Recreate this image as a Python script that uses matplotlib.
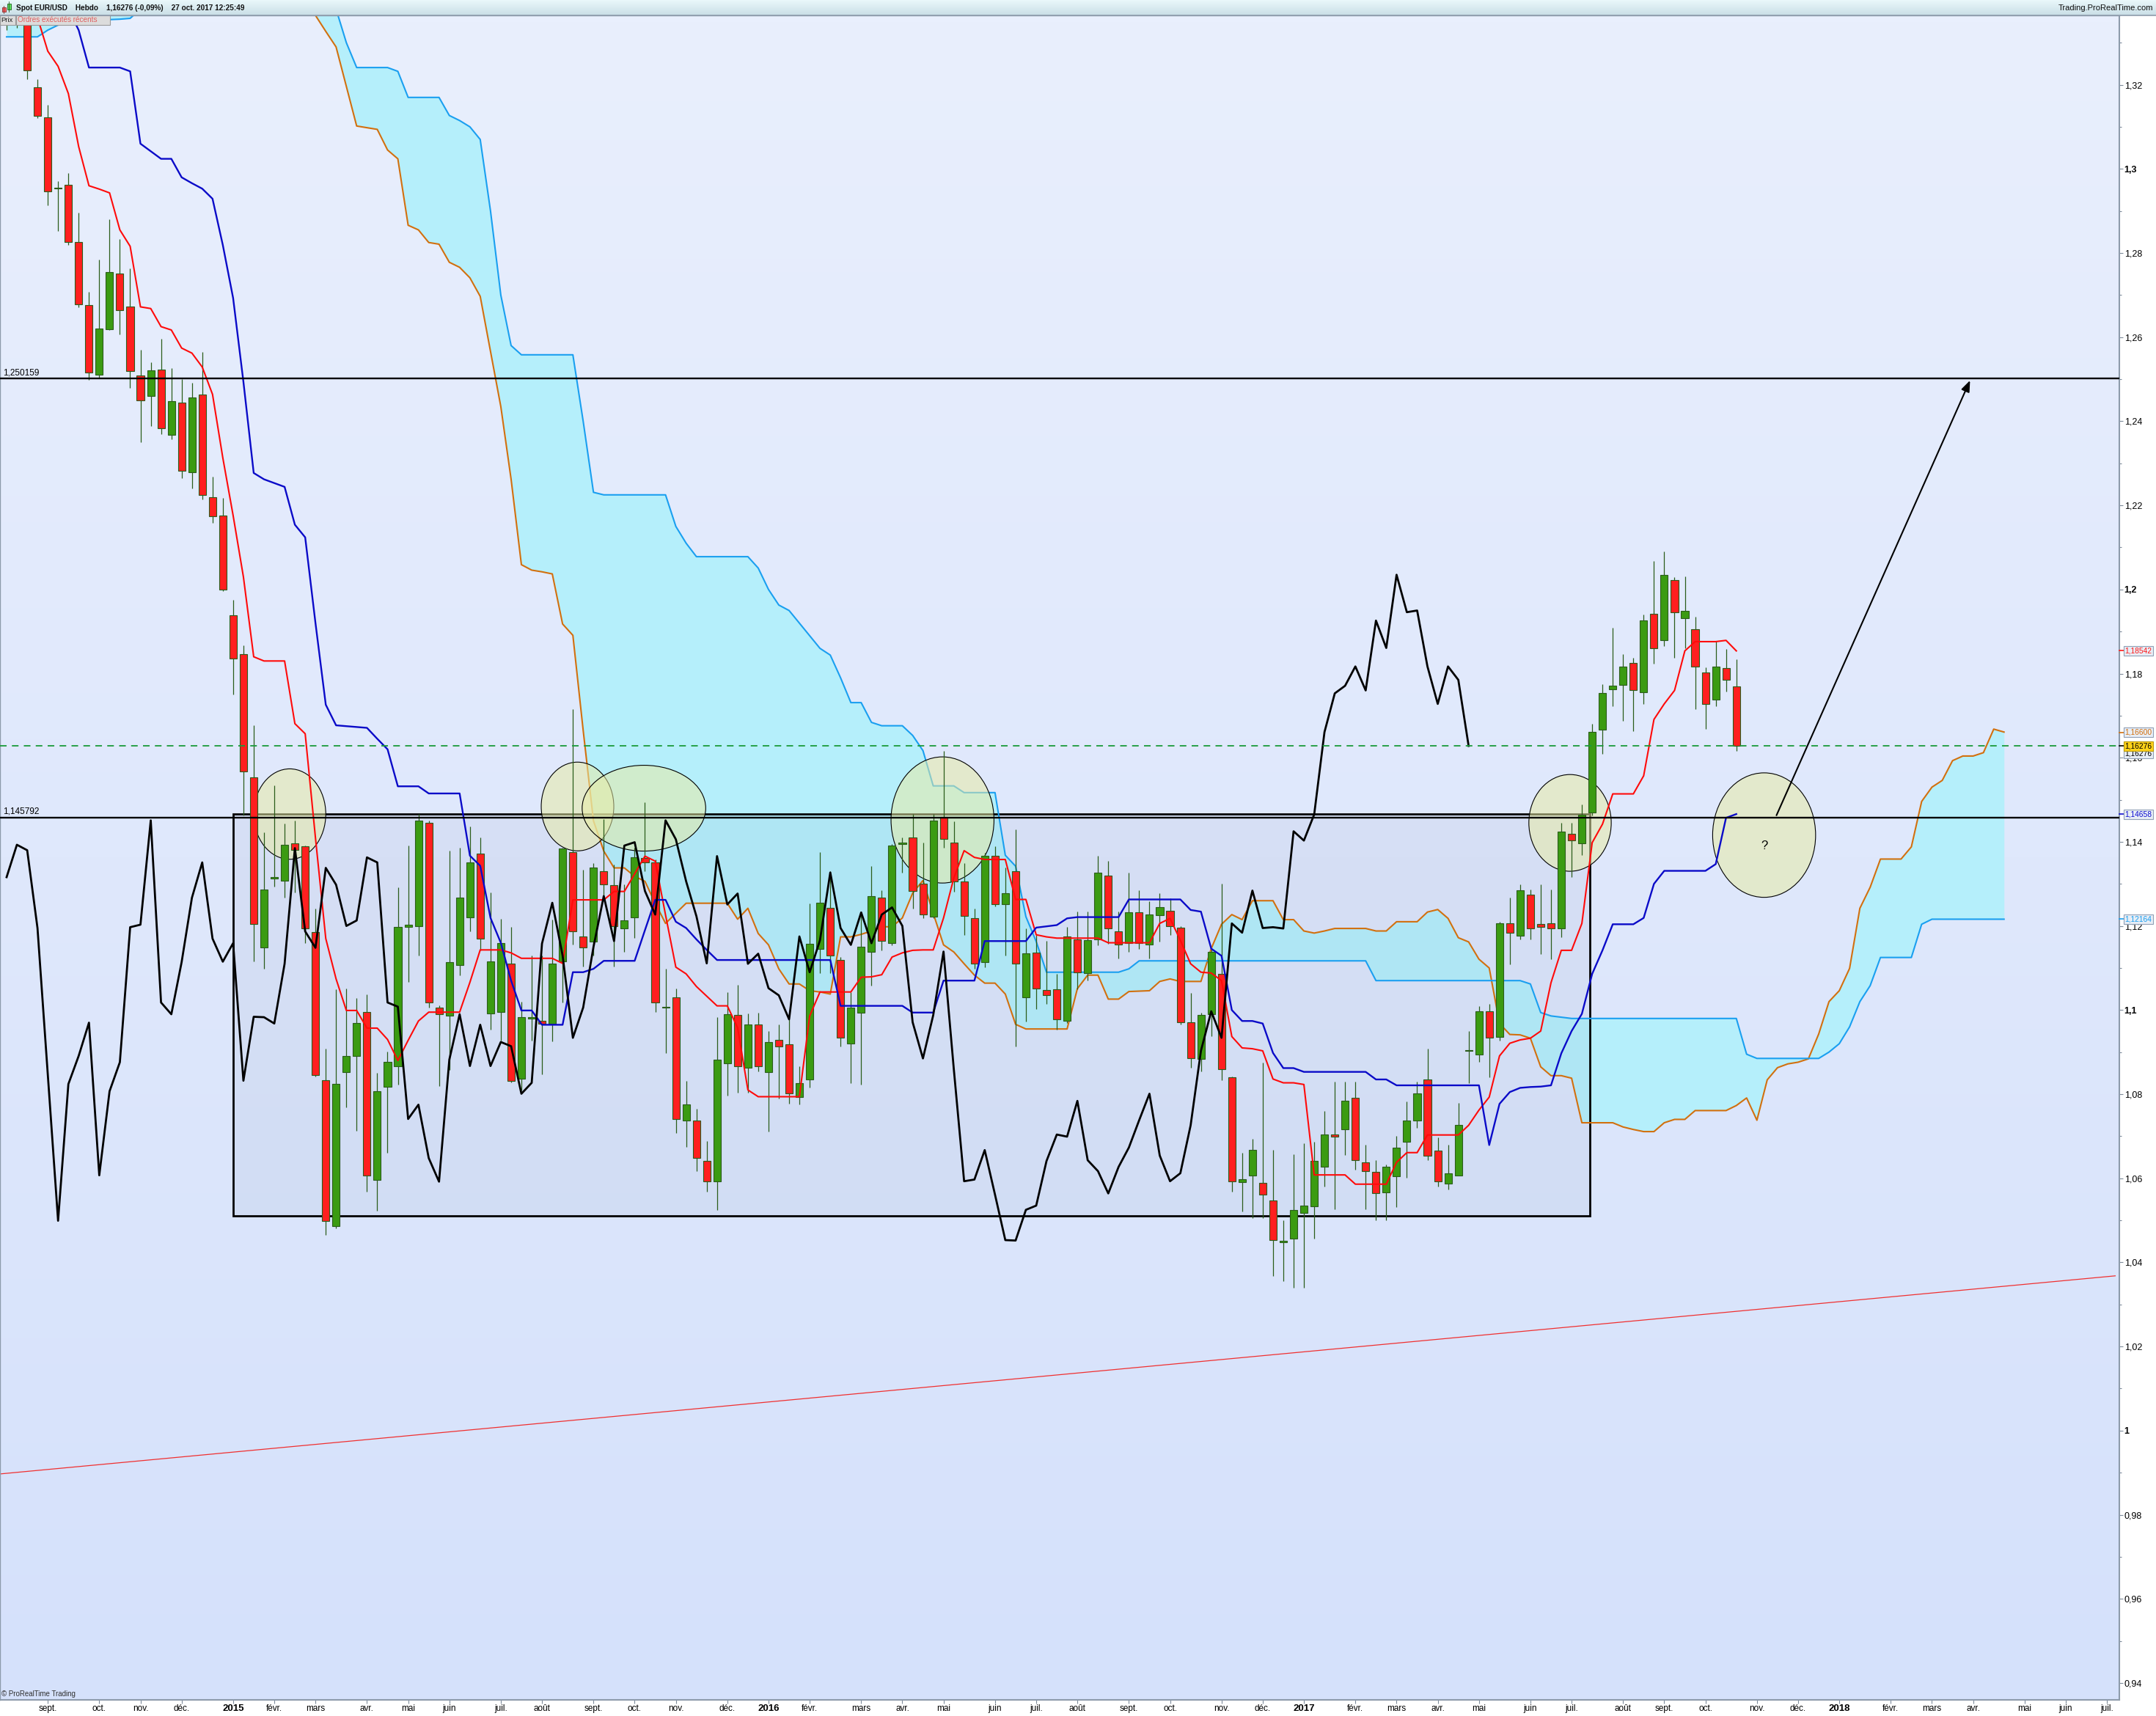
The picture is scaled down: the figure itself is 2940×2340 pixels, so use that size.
import numpy as np
import matplotlib
matplotlib.use("Agg")
import matplotlib.pyplot as plt
import matplotlib.transforms as mtrans
from matplotlib.patches import Rectangle, Ellipse
from matplotlib.colors import LinearSegmentedColormap
from matplotlib import font_manager
from datetime import date, timedelta

plt.rcParams['font.family'] = ['Liberation Sans', 'DejaVu Sans']
_names = {f.name for f in font_manager.fontManager.ttflist}
NARROW = 'Liberation Sans Narrow' if 'Liberation Sans Narrow' in _names else 'Liberation Sans'

# ---------------- data (weekly EUR/USD, first candle = week of 4 Aug 2014) ----------------
first_week = date(2014, 8, 4)

opens = [
    1.3385, 1.3410, 1.3400, 1.3194, 1.3123, 1.2953, 1.2963, 1.2826, 1.2677, 1.2510,
    1.2619, 1.2751, 1.2672, 1.2508, 1.2460, 1.2523, 1.2368, 1.2444, 1.2279, 1.2464,
    1.2219, 1.2176, 1.1938, 1.1846, 1.1553, 1.1149, 1.1312, 1.1307, 1.1396, 1.1389,
    1.1185, 1.0833, 1.0486, 1.0852, 1.0891, 1.0995, 1.0596, 1.0818, 1.0866, 1.1197,
    1.1200, 1.1446, 1.1006, 1.0986, 1.1107, 1.1221, 1.1372, 1.0992, 1.0996, 1.1111,
    1.0836, 1.0979, 1.0974, 1.0968, 1.1115, 1.1375, 1.1175, 1.1162, 1.1331, 1.1297,
    1.1194, 1.1221, 1.1362, 1.1351, 1.1006, 1.1031, 1.0737, 1.0738, 1.0641, 1.0593,
    1.0873, 1.0988, 1.0862, 1.0965, 1.0853, 1.0929, 1.0918, 1.0793, 1.0835, 1.1146,
    1.1243, 1.1120, 1.0921, 1.0994, 1.1139, 1.1268, 1.1160, 1.1395, 1.1410, 1.1300,
    1.1222, 1.1459, 1.1398, 1.1306, 1.1219, 1.1114, 1.1367, 1.1251, 1.1330, 1.1030,
    1.1136, 1.1048, 1.1050, 1.0974, 1.1168, 1.1088, 1.1168, 1.1319, 1.1188, 1.1159,
    1.1232, 1.1155, 1.1226, 1.1236, 1.1196, 1.0971, 1.0883, 1.0990, 1.1086, 1.0841,
    1.0591, 1.0607, 1.0589, 1.0548, 1.0448, 1.0456, 1.0517, 1.0533, 1.0627, 1.0705,
    1.0716, 1.0792, 1.0638, 1.0615, 1.0566, 1.0605, 1.0687, 1.0738, 1.0835, 1.0665,
    1.0588, 1.0606, 1.0905, 1.0895, 1.0997, 1.0936, 1.1207, 1.1176, 1.1274, 1.1205,
    1.1207, 1.1194, 1.1419, 1.1397, 1.1469, 1.1666, 1.1762, 1.1773, 1.1825, 1.1756,
    1.1943, 1.1880, 1.2022, 1.1932, 1.1905, 1.1803, 1.1738, 1.1813, 1.1770]

highs = [
    1.3445, 1.3440, 1.3420, 1.3214, 1.3153, 1.2971, 1.2990, 1.2896, 1.2708, 1.2784,
    1.2881, 1.2834, 1.2764, 1.2570, 1.2541, 1.2596, 1.2526, 1.2501, 1.2491, 1.2564,
    1.2268, 1.2218, 1.1975, 1.1867, 1.1677, 1.1422, 1.1534, 1.1444, 1.1450, 1.1391,
    1.1242, 1.0908, 1.1050, 1.1052, 1.1028, 1.1038, 1.0850, 1.0902, 1.1292, 1.1391,
    1.1466, 1.1450, 1.1011, 1.1379, 1.1386, 1.1436, 1.1410, 1.1279, 1.1217, 1.1198,
    1.1019, 1.1130, 1.1130, 1.1215, 1.1386, 1.1715, 1.1334, 1.1350, 1.1454, 1.1346,
    1.1298, 1.1386, 1.1494, 1.1358, 1.1098, 1.1052, 1.0832, 1.0766, 1.0689, 1.0983,
    1.1043, 1.1060, 1.0991, 1.0994, 1.0950, 1.0966, 1.0978, 1.0866, 1.1254, 1.1376,
    1.1331, 1.1126, 1.1042, 1.1234, 1.1342, 1.1284, 1.1395, 1.1410, 1.1466, 1.1398,
    1.1466, 1.1616, 1.1448, 1.1350, 1.1242, 1.1374, 1.1390, 1.1338, 1.1430, 1.1194,
    1.1178, 1.1164, 1.1086, 1.1198, 1.1234, 1.1234, 1.1366, 1.1354, 1.1234, 1.1326,
    1.1284, 1.1258, 1.1278, 1.1266, 1.1200, 1.1040, 1.0993, 1.1146, 1.1300, 1.0842,
    1.0660, 1.0693, 1.0875, 1.0667, 1.0500, 1.0657, 1.0684, 1.0687, 1.0760, 1.0829,
    1.0829, 1.0829, 1.0679, 1.0644, 1.0632, 1.0700, 1.0782, 1.0829, 1.0909, 1.0697,
    1.0679, 1.0779, 1.0950, 1.1009, 1.1015, 1.1210, 1.1268, 1.1298, 1.1286, 1.1298,
    1.1286, 1.1445, 1.1445, 1.1489, 1.1681, 1.1775, 1.1909, 1.1846, 1.1837, 1.1940,
    1.2067, 1.2090, 1.2029, 1.2031, 1.1935, 1.1815, 1.1878, 1.1858, 1.1834]

lows = [
    1.3330, 1.3335, 1.3214, 1.3121, 1.2914, 1.2853, 1.2820, 1.2671, 1.2498, 1.2504,
    1.2617, 1.2607, 1.2480, 1.2351, 1.2388, 1.2370, 1.2357, 1.2264, 1.2241, 1.2215,
    1.2158, 1.1997, 1.1751, 1.1462, 1.1115, 1.1098, 1.1293, 1.1268, 1.1279, 1.1160,
    1.0842, 1.0465, 1.0481, 1.0768, 1.0713, 1.0569, 1.0522, 1.0661, 1.0822, 1.1066,
    1.1130, 1.1006, 1.0820, 1.0858, 1.1083, 1.1187, 1.1142, 1.0954, 1.0927, 1.0828,
    1.0808, 1.0928, 1.0847, 1.0925, 1.1018, 1.1155, 1.1104, 1.1130, 1.1266, 1.1104,
    1.1138, 1.1172, 1.1330, 1.0995, 1.0898, 1.0707, 1.0675, 1.0617, 1.0568, 1.0524,
    1.0797, 1.0803, 1.0803, 1.0854, 1.0712, 1.0790, 1.0778, 1.0775, 1.0816, 1.1088,
    1.1088, 1.0914, 1.0826, 1.0823, 1.1058, 1.1142, 1.1154, 1.1326, 1.1242, 1.1218,
    1.1218, 1.1386, 1.1282, 1.1178, 1.1099, 1.1102, 1.1246, 1.1130, 1.0914, 1.0972,
    1.1002, 1.1014, 1.0954, 1.0970, 1.1050, 1.1071, 1.1154, 1.1158, 1.1123, 1.1139,
    1.1146, 1.1123, 1.1162, 1.1178, 1.0966, 1.0862, 1.0854, 1.0938, 1.0834, 1.0569,
    1.0521, 1.0505, 1.0505, 1.0367, 1.0355, 1.0340, 1.0340, 1.0457, 1.0580, 1.0526,
    1.0656, 1.0620, 1.0526, 1.0500, 1.0500, 1.0532, 1.0602, 1.0720, 1.0644, 1.0581,
    1.0573, 1.0606, 1.0826, 1.0876, 1.0840, 1.0927, 1.1109, 1.1168, 1.1168, 1.1133,
    1.1121, 1.1174, 1.1316, 1.1369, 1.1463, 1.1610, 1.1722, 1.1687, 1.1663, 1.1728,
    1.1823, 1.1866, 1.1838, 1.1861, 1.1716, 1.1669, 1.1722, 1.1758, 1.1616]

closes = [
    1.3410, 1.3395, 1.3234, 1.3126, 1.2946, 1.2956, 1.2827, 1.2678, 1.2516, 1.2620,
    1.2755, 1.2664, 1.2519, 1.2450, 1.2521, 1.2384, 1.2447, 1.2282, 1.2457, 1.2224,
    1.2174, 1.1999, 1.1836, 1.1568, 1.1205, 1.1287, 1.1316, 1.1393, 1.1380, 1.1195,
    1.0846, 1.0499, 1.0824, 1.0891, 1.0970, 1.0607, 1.0807, 1.0876, 1.1197, 1.1203,
    1.1451, 1.1018, 1.0990, 1.1114, 1.1267, 1.1351, 1.1170, 1.1115, 1.1159, 1.0832,
    1.0984, 1.0983, 1.0968, 1.1110, 1.1385, 1.1187, 1.1148, 1.1338, 1.1298, 1.1200,
    1.1213, 1.1363, 1.1351, 1.1018, 1.1008, 1.0741, 1.0775, 1.0648, 1.0592, 1.0882,
    1.0990, 1.0867, 1.0965, 1.0867, 1.0924, 1.0914, 1.0801, 1.0827, 1.1158, 1.1255,
    1.1130, 1.0934, 1.1006, 1.1150, 1.1271, 1.1164, 1.1391, 1.1399, 1.1283, 1.1227,
    1.1451, 1.1406, 1.1306, 1.1223, 1.1111, 1.1366, 1.1251, 1.1277, 1.1110, 1.1134,
    1.1052, 1.1035, 1.0978, 1.1175, 1.1090, 1.1166, 1.1327, 1.1195, 1.1155, 1.1232,
    1.1159, 1.1227, 1.1244, 1.1200, 1.0971, 1.0885, 1.0988, 1.1139, 1.0859, 1.0593,
    1.0597, 1.0667, 1.0561, 1.0453, 1.0452, 1.0525, 1.0535, 1.0641, 1.0704, 1.0699,
    1.0784, 1.0643, 1.0617, 1.0564, 1.0627, 1.0673, 1.0738, 1.0801, 1.0654, 1.0593,
    1.0612, 1.0726, 1.0903, 1.0997, 1.0934, 1.1206, 1.1184, 1.1284, 1.1195, 1.1197,
    1.1194, 1.1425, 1.1403, 1.1465, 1.1661, 1.1753, 1.1771, 1.1817, 1.1760, 1.1926,
    1.1861, 1.2035, 1.1946, 1.1950, 1.1817, 1.1728, 1.1817, 1.1785, 1.1628]

tenkan = [
    1.3500, 1.3450, 1.3400, 1.3360, 1.3280, 1.3244, 1.3179, 1.3053, 1.2960, 1.2952,
    1.2943, 1.2855, 1.2816, 1.2672, 1.2668, 1.2625, 1.2617, 1.2574, 1.2562, 1.2529,
    1.2464, 1.2313, 1.2176, 1.2030, 1.1840, 1.1830, 1.1830, 1.1830, 1.1681, 1.1657,
    1.1409, 1.1170, 1.1074, 1.0999, 1.0999, 1.0957, 1.0957, 1.0930, 1.0880, 1.0928,
    1.0974, 1.0995, 1.0995, 1.0995, 1.0995, 1.1066, 1.1143, 1.1143, 1.1143, 1.1136,
    1.1123, 1.1123, 1.1123, 1.1123, 1.1111, 1.1262, 1.1262, 1.1262, 1.1262, 1.1282,
    1.1282, 1.1324, 1.1366, 1.1354, 1.1226, 1.1102, 1.1086, 1.1056, 1.1033, 1.1010,
    1.1010, 1.0958, 1.0810, 1.0794, 1.0794, 1.0794, 1.0794, 1.0794, 1.0986, 1.1043,
    1.1043, 1.1043, 1.1043, 1.1078, 1.1079, 1.1084, 1.1126, 1.1136, 1.1142, 1.1143,
    1.1143, 1.1219, 1.1314, 1.1379, 1.1363, 1.1358, 1.1358, 1.1358, 1.1263, 1.1263,
    1.1179, 1.1174, 1.1171, 1.1171, 1.1171, 1.1171, 1.1171, 1.1160, 1.1160, 1.1160,
    1.1160, 1.1160, 1.1206, 1.1218, 1.1166, 1.1110, 1.1090, 1.1088, 1.1070, 1.0937,
    1.0910, 1.0908, 1.0903, 1.0836, 1.0827, 1.0827, 1.0823, 1.0608, 1.0608, 1.0608,
    1.0608, 1.0586, 1.0586, 1.0586, 1.0586, 1.0638, 1.0661, 1.0661, 1.0703, 1.0703,
    1.0703, 1.0703, 1.0726, 1.0762, 1.0793, 1.0891, 1.0921, 1.0929, 1.0933, 1.0950,
    1.1065, 1.1142, 1.1142, 1.1206, 1.1398, 1.1442, 1.1514, 1.1514, 1.1514, 1.1557,
    1.1691, 1.1728, 1.1760, 1.1854, 1.1876, 1.1876, 1.1876, 1.1879, 1.1854]

kijun = [
    1.3600, 1.3550, 1.3500, 1.3450, 1.3420, 1.3400, 1.3380, 1.3330, 1.3241, 1.3241,
    1.3241, 1.3241, 1.3232, 1.3060, 1.3042, 1.3024, 1.3024, 1.2980, 1.2966, 1.2953,
    1.2929, 1.2819, 1.2693, 1.2494, 1.2277, 1.2262, 1.2253, 1.2244, 1.2154, 1.2124,
    1.1920, 1.1726, 1.1677, 1.1675, 1.1673, 1.1671, 1.1645, 1.1620, 1.1532, 1.1532,
    1.1532, 1.1515, 1.1515, 1.1515, 1.1515, 1.1367, 1.1343, 1.1219, 1.1160, 1.1070,
    1.0999, 1.0999, 1.0965, 1.0965, 1.0965, 1.1090, 1.1090, 1.1098, 1.1117, 1.1117,
    1.1117, 1.1117, 1.1190, 1.1262, 1.1262, 1.1210, 1.1195, 1.1168, 1.1143, 1.1119,
    1.1119, 1.1119, 1.1119, 1.1119, 1.1119, 1.1119, 1.1119, 1.1119, 1.1119, 1.1119,
    1.1119, 1.1010, 1.1010, 1.1010, 1.1010, 1.1010, 1.1010, 1.1010, 1.0994, 1.0994,
    1.0994, 1.1070, 1.1070, 1.1070, 1.1070, 1.1164, 1.1164, 1.1164, 1.1164, 1.1164,
    1.1196, 1.1199, 1.1202, 1.1218, 1.1221, 1.1221, 1.1221, 1.1221, 1.1221, 1.1263,
    1.1263, 1.1263, 1.1263, 1.1263, 1.1263, 1.1238, 1.1234, 1.1146, 1.1129, 1.1000,
    1.0974, 1.0974, 1.0968, 1.0898, 1.0862, 1.0862, 1.0853, 1.0853, 1.0853, 1.0853,
    1.0853, 1.0853, 1.0853, 1.0835, 1.0835, 1.0821, 1.0821, 1.0821, 1.0821, 1.0821,
    1.0821, 1.0821, 1.0821, 1.0821, 1.0679, 1.0777, 1.0805, 1.0815, 1.0817, 1.0818,
    1.0821, 1.0897, 1.0950, 1.0991, 1.1086, 1.1142, 1.1204, 1.1204, 1.1204, 1.1219,
    1.1300, 1.1331, 1.1331, 1.1331, 1.1331, 1.1331, 1.1347, 1.1457, 1.1466]

senkou_a = [
    1.3600, 1.3600, 1.3600, 1.3600, 1.3600, 1.3600, 1.3600, 1.3600, 1.3600, 1.3600,
    1.3600, 1.3600, 1.3600, 1.3600, 1.3600, 1.3600, 1.3600, 1.3600, 1.3600, 1.3600,
    1.3600, 1.3600, 1.3600, 1.3600, 1.3600, 1.3600, 1.3600, 1.3600, 1.3550, 1.3450,
    1.3365, 1.3327, 1.3290, 1.3196, 1.3102, 1.3098, 1.3094, 1.3045, 1.3024, 1.2866,
    1.2855, 1.2825, 1.2821, 1.2778, 1.2766, 1.2741, 1.2697, 1.2566, 1.2435, 1.2262,
    1.2059, 1.2046, 1.2042, 1.2037, 1.1918, 1.1891, 1.1665, 1.1450, 1.1378, 1.1338,
    1.1338, 1.1318, 1.1306, 1.1254, 1.1206, 1.1230, 1.1254, 1.1254, 1.1254, 1.1254,
    1.1254, 1.1216, 1.1242, 1.1182, 1.1155, 1.1098, 1.1062, 1.1062, 1.1046, 1.1043,
    1.1038, 1.1174, 1.1174, 1.1180, 1.1188, 1.1198, 1.1198, 1.1219, 1.1278, 1.1308,
    1.1230, 1.1155, 1.1138, 1.1110, 1.1083, 1.1064, 1.1064, 1.1038, 1.0966, 1.0955,
    1.0955, 1.0955, 1.0955, 1.0955, 1.1051, 1.1083, 1.1083, 1.1026, 1.1026, 1.1044,
    1.1045, 1.1046, 1.1068, 1.1074, 1.1068, 1.1068, 1.1068, 1.1146, 1.1204, 1.1227,
    1.1215, 1.1260, 1.1260, 1.1260, 1.1215, 1.1215, 1.1188, 1.1183, 1.1188, 1.1194,
    1.1194, 1.1194, 1.1194, 1.1188, 1.1188, 1.1210, 1.1210, 1.1210, 1.1233, 1.1239,
    1.1218, 1.1172, 1.1162, 1.1121, 1.1100, 1.0968, 1.0942, 1.0941, 1.0933, 1.0865,
    1.0844, 1.0844, 1.0838, 1.0732, 1.0732, 1.0732, 1.0732, 1.0722, 1.0716, 1.0711,
    1.0711, 1.0732, 1.0740, 1.0740, 1.0761, 1.0761, 1.0761, 1.0761, 1.0773, 1.0791,
    1.0738, 1.0834, 1.0863, 1.0872, 1.0876, 1.0884, 1.0943, 1.1020, 1.1046, 1.1099,
    1.1242, 1.1292, 1.1359, 1.1359, 1.1359, 1.1388, 1.1496, 1.1530, 1.1546, 1.1593,
    1.1604, 1.1604, 1.1612, 1.1668, 1.1661]

senkou_b = [
    1.3314, 1.3314, 1.3314, 1.3314, 1.3330, 1.3342, 1.3347, 1.3350, 1.3352, 1.3354,
    1.3355, 1.3356, 1.3358, 1.3380, 1.3420, 1.3420, 1.3420, 1.3420, 1.3420, 1.3420,
    1.3420, 1.3420, 1.3420, 1.3420, 1.3420, 1.3420, 1.3420, 1.3420, 1.3420, 1.3420,
    1.3420, 1.3420, 1.3380, 1.3300, 1.3241, 1.3241, 1.3241, 1.3241, 1.3232, 1.3170,
    1.3170, 1.3170, 1.3170, 1.3127, 1.3115, 1.3100, 1.3070, 1.2900, 1.2700, 1.2580,
    1.2558, 1.2558, 1.2558, 1.2558, 1.2558, 1.2558, 1.2400, 1.2231, 1.2225, 1.2225,
    1.2225, 1.2225, 1.2225, 1.2225, 1.2225, 1.2150, 1.2110, 1.2078, 1.2078, 1.2078,
    1.2078, 1.2078, 1.2078, 1.2051, 1.2000, 1.1963, 1.1950, 1.1920, 1.1890, 1.1860,
    1.1844, 1.1790, 1.1731, 1.1731, 1.1684, 1.1676, 1.1676, 1.1676, 1.1653, 1.1617,
    1.1533, 1.1533, 1.1533, 1.1517, 1.1517, 1.1517, 1.1517, 1.1368, 1.1342, 1.1222,
    1.1163, 1.1090, 1.1090, 1.1090, 1.1090, 1.1090, 1.1090, 1.1090, 1.1090, 1.1098,
    1.1117, 1.1117, 1.1117, 1.1117, 1.1117, 1.1117, 1.1117, 1.1117, 1.1117, 1.1117,
    1.1117, 1.1117, 1.1117, 1.1117, 1.1117, 1.1117, 1.1117, 1.1117, 1.1117, 1.1117,
    1.1117, 1.1117, 1.1117, 1.1070, 1.1070, 1.1070, 1.1070, 1.1070, 1.1070, 1.1070,
    1.1070, 1.1070, 1.1070, 1.1070, 1.1070, 1.1070, 1.1070, 1.1070, 1.1062, 1.0994,
    1.0986, 1.0983, 1.0980, 1.0980, 1.0980, 1.0980, 1.0980, 1.0980, 1.0980, 1.0980,
    1.0980, 1.0980, 1.0980, 1.0980, 1.0980, 1.0980, 1.0980, 1.0980, 1.0980, 1.0895,
    1.0885, 1.0885, 1.0885, 1.0885, 1.0885, 1.0885, 1.0885, 1.0900, 1.0920, 1.0960,
    1.1020, 1.1058, 1.1125, 1.1125, 1.1125, 1.1125, 1.1204, 1.1216, 1.1216, 1.1216,
    1.1216, 1.1216, 1.1216, 1.1216, 1.1216]

chikou_shift = 26

# horizontal levels and current price
level_high = 1.250159
level_low = 1.145792
last_price = 1.16276

# right-axis price tags: (value, text colour)
tag_values = [1.18542, 1.16600, 1.14658, 1.12164]
tag_colors = ['#ff1a1a', '#d2700e', '#1010d0', '#1a9ff0']
price_tag = 1.16276
price_tag_shadow = 1.1610

# annotations drawn by the author (week index / price)
range_box = (22.0, 153.8, 1.0511, 1.1466)          # k0, k1, low, high
ellipses = [(27.5, 1.1466, 7.0, 0.0215),
            (55.45, 1.1484, 7.05, 0.0211),
            (61.9, 1.1480, 12.0, 0.0204),
            (90.9, 1.1452, 10.0, 0.0300),
            (151.85, 1.1445, 8.0, 0.0230),
            (170.7, 1.1416, 10.0, 0.0296)]
question_pos = (170.7, 1.1391)
arrow_start = (171.9, 1.1463)
arrow_end = (190.7, 1.2497)
trend_start = (-0.64, 0.9897)
trend_end = (204.8, 1.0368)

y_ticks = [0.94, 0.96, 0.98, 1.00, 1.02, 1.04, 1.06, 1.08, 1.10, 1.12, 1.14,
           1.16, 1.18, 1.20, 1.22, 1.24, 1.26, 1.28, 1.30, 1.32]
months_fr = ['janv.', 'févr.', 'mars', 'avr.', 'mai', 'juin', 'juil.', 'août',
             'sept.', 'oct.', 'nov.', 'déc.']

# ---------------- figure ----------------
W, H, DPI = 2940, 2340, 100
fig = plt.figure(figsize=(W / DPI, H / DPI), dpi=DPI, facecolor='white')
PL, PR, PT, PB = 0, 2890, 21, 2318
ax = fig.add_axes([PL / W, 1 - PB / H, (PR - PL) / W, (PB - PT) / H])
XL = (-0.641, 205.2)
YL = (0.93598, 1.3365)

grad = np.linspace(0, 1, 256).reshape(-1, 1)
bg_cmap = LinearSegmentedColormap.from_list('bg', ['#e9effd', '#d5e1fb'])
ax.imshow(grad, extent=[XL[0], XL[1], YL[0], YL[1]], origin='upper',
          aspect='auto', cmap=bg_cmap, zorder=0)
ax.set_xlim(*XL)
ax.set_ylim(*YL)

o = np.array(opens); h = np.array(highs); l = np.array(lows); c = np.array(closes)
k = np.arange(len(c))
ks = np.arange(len(senkou_a))

# Ichimoku cloud
ax.fill_between(ks, senkou_a, senkou_b, color='#b5effb', lw=0, zorder=1)
ax.plot(ks, senkou_a, color='#d2700e', lw=1.5, zorder=2)
ax.plot(ks, senkou_b, color='#1a9ff0', lw=1.5, zorder=2)

# range rectangle
bx0, bx1, by0, by1 = range_box
ax.add_patch(Rectangle((bx0, by0), bx1 - bx0, by1 - by0, facecolor=(0.45, 0.5, 0.65, 0.08),
                       edgecolor='black', lw=2.0, zorder=1.5))

# long red trend line
ax.plot([trend_start[0], trend_end[0]], [trend_start[1], trend_end[1]],
        color='#f03030', lw=0.9, zorder=2)

# ellipses
for (ek, ev, ew, eh) in ellipses:
    ax.add_patch(Ellipse((ek, ev), ew, eh, facecolor=(0.905, 0.92, 0.65, 0.55),
                         edgecolor='black', lw=0.8, zorder=2.5))

# candles
up = c >= o
ax.vlines(k, l, h, color='#2b5d1b', lw=0.9, zorder=3)
ax.bar(k, np.maximum(np.abs(c - o), 0.00022), bottom=np.minimum(o, c), width=0.72,
       color=np.where(up, '#3b9b12', '#ff1f1f'), edgecolor='#2b5d1b', linewidth=0.8, zorder=3)

# Tenkan, Kijun, Chikou
ax.plot(k, tenkan, color='#ff0a0a', lw=1.5, zorder=4)
ax.plot(k, kijun, color='#0a0ac8', lw=1.7, zorder=4)
ax.plot(k[:-chikou_shift], c[chikou_shift:], color='black', lw=2.0, zorder=4)

# horizontal lines
ax.axhline(level_high, color='black', lw=1.7, zorder=5)
ax.axhline(level_low, color='black', lw=1.7, zorder=5)
ax.axhline(last_price, color='#1a9a3a', lw=1.3, ls=(0, (5, 4)), zorder=5)

blend = mtrans.blended_transform_factory(ax.transAxes, ax.transData)
for lv in (level_high, level_low):
    ax.text(0.0015, lv + 0.0003, f"{lv:.6f}".replace('.', ','), transform=blend,
            fontsize=8.5, family=NARROW, va='bottom', ha='left', zorder=6)

# arrow and question mark
ax.annotate('', xy=arrow_end, xytext=arrow_start,
            arrowprops=dict(arrowstyle='-|>,head_length=0.9,head_width=0.35', color='black',
                            lw=1.5, shrinkA=0, shrinkB=0), zorder=6)
ax.text(question_pos[0], question_pos[1], '?', fontsize=12, ha='center', va='center', zorder=6)

# axes styling
ax.yaxis.tick_right()
ax.set_yticks(y_ticks)
ylabels = []
for v in y_ticks:
    s = f"{v:.2f}".rstrip('0').rstrip('.').replace('.', ',')
    ylabels.append(s)
ax.set_yticklabels(ylabels)
ax.set_yticks(np.round(np.arange(0.94, 1.335, 0.01), 2), minor=True)
ax.tick_params(axis='y', which='major', direction='out', length=3.6, width=0.8,
               color='#7d8b9a', pad=1.2, labelsize=9)
ax.tick_params(axis='y', which='minor', direction='out', length=2.5, width=0.8, color='#7d8b9a')
for lbl in ax.get_yticklabels():
    lbl.set_family(NARROW)
    if len(lbl.get_text()) <= 3:
        lbl.set_fontweight('bold')

# monthly x ticks (first weekly candle of each month)
tick_k, tick_lbl = [], []
yy, mm = 2014, 9
while (yy, mm) <= (2018, 7):
    d = date(yy, mm, 1)
    while d.weekday() != 0:
        d += timedelta(days=1)
    tick_k.append((d - first_week).days / 7)
    tick_lbl.append(str(yy) if mm == 1 else months_fr[mm - 1])
    mm += 1
    if mm > 12:
        mm, yy = 1, yy + 1
ax.set_xticks(tick_k)
ax.set_xticklabels(tick_lbl)
ax.tick_params(axis='x', direction='out', length=3.6, width=0.8, color='#7d8b9a',
               pad=1.0, labelsize=8.5)
for lbl in ax.get_xticklabels():
    lbl.set_family(NARROW)
    if lbl.get_text().isdigit():
        lbl.set_fontweight('bold')
        lbl.set_fontsize(9.5)

for side, sp in ax.spines.items():
    sp.set_color('#8d9bab')
    sp.set_linewidth(1.5 if side in ('right', 'bottom') else 1.0)

# right price tags
TAG_X = 1.0022
tag_font = dict(fontsize=7.4, family=NARROW, va='center', ha='left', clip_on=False)
for v, col in zip(tag_values, tag_colors):
    ax.plot([1.0, TAG_X], [v, v], transform=blend, color=col, lw=1.2, clip_on=False, zorder=9)
    ax.text(TAG_X + 0.0004, v, f"{v:.5f}".replace('.', ','), transform=blend, color=col,
            zorder=10, bbox=dict(boxstyle='square,pad=0.15', fc='#e8eef6', ec='#8f9fb5', lw=0.8),
            **tag_font)
ax.text(TAG_X + 0.0004, price_tag_shadow, f"{price_tag:.5f}".replace('.', ','), transform=blend,
        color='black', zorder=10,
        bbox=dict(boxstyle='square,pad=0.15', fc='#e8eef6', ec='#8f9fb5', lw=0.8), **tag_font)
ax.plot([1.0, TAG_X], [price_tag, price_tag], transform=blend, color='black', lw=1.2,
        clip_on=False, zorder=9)
ax.text(TAG_X + 0.0004, price_tag, f"{price_tag:.5f}".replace('.', ','), transform=blend,
        color='black', zorder=11,
        bbox=dict(boxstyle='square,pad=0.15', fc='#ffd21a', ec='#b89a10', lw=0.8), **tag_font)

# ---------------- overlay: header and small boxes (pixel coordinates) ----------------
ov = fig.add_axes([0, 0, 1, 1], zorder=20)
ov.patch.set_alpha(0)
ov.axis('off')
hdr_cmap = LinearSegmentedColormap.from_list('hdr', ['#eaf8fb', '#c9dee6'])
ov.imshow(grad, extent=[0, W, PT, 0], origin='upper', aspect='auto', cmap=hdr_cmap, zorder=0)
ov.set_xlim(0, W)
ov.set_ylim(H, 0)
ov.plot([0, W], [PT, PT], color='#8d9bab', lw=1.2)

# header icon
ov.add_patch(Rectangle((3, 10), 5, 6, fc='#ff6060', ec='#803030', lw=0.6))
ov.plot([5.5, 5.5], [8, 18], color='#803030', lw=0.6)
ov.add_patch(Rectangle((10, 5), 5, 8, fc='#5ce05c', ec='#206020', lw=0.6))
ov.plot([12.5, 12.5], [2, 16], color='#206020', lw=0.6)

ov.text(22, 11, 'Spot EUR/USD    Hebdo    1,16276 (-0,09%)    27 oct. 2017 12:25:49',
        fontsize=7.2, fontweight='bold', va='center', ha='left', color='#101010')
ov.text(2936, 11, 'Trading.ProRealTime.com', fontsize=8, va='center', ha='right',
        color='#101010')

ov.add_patch(Rectangle((0, PT), 21, 13, fc='#dcdcdc', ec='#9a9a9a', lw=0.8))
ov.text(1.5, PT + 6.5, 'Prix', fontsize=6.8, va='center', ha='left', color='#202020')
ov.add_patch(Rectangle((22, PT), 128, 13, fc='#dcdcdc', ec='#9a9a9a', lw=0.8))
ov.text(24, PT + 6.5, 'Ordres exécutés récents', fontsize=7.2, va='center', ha='left',
        color='#e06060')

ov.text(2, PB - 3, '© ProRealTime Trading', fontsize=7, family=NARROW, va='bottom',
        ha='left', color='#303030')

fig.savefig('out.png', dpi=DPI, facecolor='white')
